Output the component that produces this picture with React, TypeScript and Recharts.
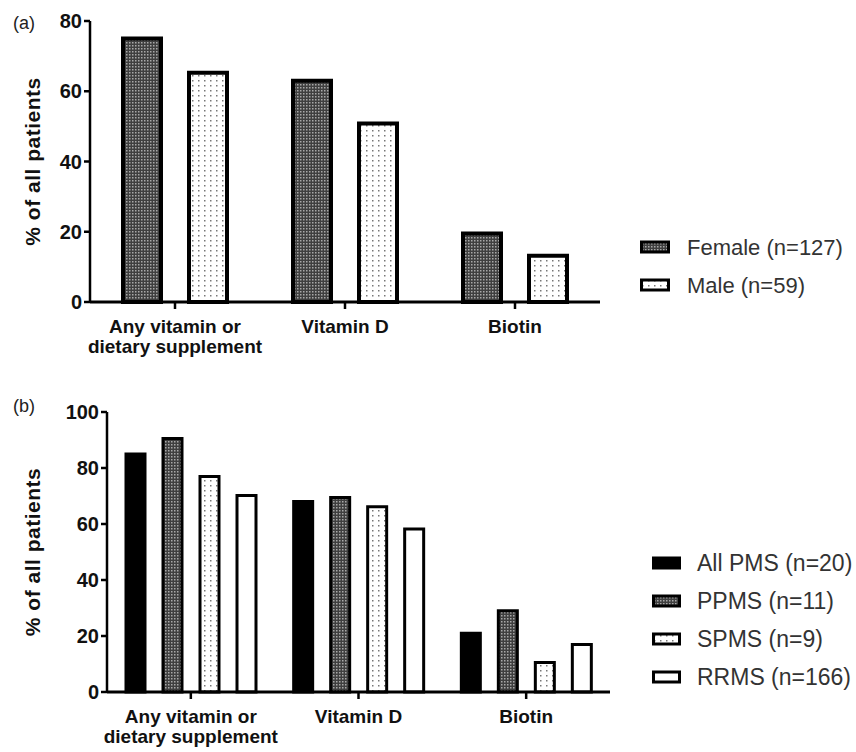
import React from "react";
import { BarChart, Bar, XAxis, YAxis } from "recharts";

// panel (a): by sex
const categories = ["Any vitamin or\ndietary supplement", "Vitamin D", "Biotin"];
const femaleValues = [75.0, 63.0, 19.5];
const maleValues = [65.3, 50.8, 13.2];
const sexSeries = ["Female (n=127)", "Male (n=59)"];
const yTicksA = [0, 20, 40, 60, 80];

// panel (b): by MS type
const allPmsValues = [85.0, 68.0, 21.0];
const ppmsValues = [90.5, 69.5, 29.0];
const spmsValues = [77.0, 66.2, 10.5];
const rrmsValues = [70.2, 58.2, 17.0];
const msSeries = ["All PMS (n=20)", "PPMS (n=11)", "SPMS (n=9)", "RRMS (n=166)"];
const yTicksB = [0, 20, 40, 60, 80, 100];

const dataA = categories.map((name, i) => ({
  name,
  female: femaleValues[i],
  male: maleValues[i],
}));

const dataB = categories.map((name, i) => ({
  name,
  allPms: allPmsValues[i],
  ppms: ppmsValues[i],
  spms: spmsValues[i],
  rrms: rrmsValues[i],
}));

const FONT = "'Liberation Sans', Arial, sans-serif";

const CategoryTick = (props: any) => {
  const { x, y, payload } = props;
  const lines = String(payload.value).split("\n");
  return (
    <text x={x} y={y} textAnchor="middle" fontSize={19} fontWeight="bold" fill="#111" fontFamily={FONT}>
      {lines.map((l, i) => (
        <tspan key={i} x={x} dy={i === 0 ? 22 : 20}>
          {l}
        </tspan>
      ))}
    </text>
  );
};

const yTickStyle = { fontSize: 20, fontWeight: "bold" as const, fill: "#111", fontFamily: FONT };
const yLabelStyle = { textAnchor: "middle" as const, fontSize: 21, fontWeight: "bold" as const, fill: "#111", fontFamily: FONT, letterSpacing: 0.5 };

const fills = {
  check: "url(#checkFill)",
  dots: "url(#dotFill)",
};

const App = () => {
  return (
    <div style={{ position: "absolute", left: 0, top: 0, width: 856, height: 752, background: "#fff", fontFamily: FONT }}>
      <svg width={856} height={752} style={{ position: "absolute", left: 0, top: 0 }}>
        <defs>
          <pattern id="checkFill" patternUnits="userSpaceOnUse" width={3} height={3}>
            <rect width={3} height={3} fill="#3f3f3f" />
            <rect width={1.5} height={1.5} fill="#a8a8a8" />
          </pattern>
          <pattern id="dotFill" patternUnits="userSpaceOnUse" width={6} height={5}>
            <rect width={6} height={5} fill="#fff" />
            <rect width={1.5} height={1.5} fill="#777" />
          </pattern>
        </defs>
        <text x={13} y={29} fontSize={18} fill="#222" fontFamily={FONT}>(a)</text>
        <text x={13} y={412} fontSize={18} fill="#222" fontFamily={FONT}>(b)</text>

        {sexSeries.map((s, i) => {
          const cy = 247 + i * 38;
          return (
            <g key={s}>
              <rect x={641.5} y={cy - 5} width={27} height={10} fill={i === 0 ? fills.check : fills.dots} stroke="#000" strokeWidth={3} />
              <text x={687} y={cy} dominantBaseline="central" fontSize={22} fill="#333" fontFamily={FONT}>{s}</text>
            </g>
          );
        })}

        {msSeries.map((s, i) => {
          const cy = 563 + i * 38;
          const f = ["#000", fills.check, fills.dots, "#fff"][i];
          return (
            <g key={s}>
              <rect x={653.5} y={cy - 5} width={26} height={10} fill={f} stroke="#000" strokeWidth={3} />
              <text x={697} y={cy} dominantBaseline="central" fontSize={23} fill="#333" fontFamily={FONT}>{s}</text>
            </g>
          );
        })}
      </svg>

      <div style={{ position: "absolute", left: 0, top: 0 }}>
        <BarChart width={600} height={362} data={dataA} margin={{ top: 21, right: 0, left: 0, bottom: 0 }} barSize={38} barGap={28}>
          <XAxis
            dataKey="name"
            interval={0}
            height={60}
            tick={<CategoryTick />}
            axisLine={{ stroke: "#000", strokeWidth: 3 }}
            tickLine={{ stroke: "#000", strokeWidth: 2.5 }}
            tickSize={7}
          />
          <YAxis
            width={90}
            domain={[0, 80]}
            ticks={yTicksA}
            tick={yTickStyle}
            axisLine={{ stroke: "#000", strokeWidth: 2.5 }}
            tickLine={{ stroke: "#000", strokeWidth: 2.5 }}
            tickSize={6}
            label={{ value: "% of all patients", angle: -90, position: "insideLeft", offset: 33, style: yLabelStyle }}
          />
          <Bar dataKey="female" fill={fills.check} stroke="#000" strokeWidth={4} isAnimationActive={false} />
          <Bar dataKey="male" fill={fills.dots} stroke="#000" strokeWidth={4} isAnimationActive={false} />
        </BarChart>
      </div>

      <div style={{ position: "absolute", left: 0, top: 390 }}>
        <BarChart width={610} height={362} data={dataB} margin={{ top: 22, right: 0, left: 0, bottom: 0 }} barSize={19} barGap={18}>
          <XAxis
            dataKey="name"
            interval={0}
            height={60}
            tick={<CategoryTick />}
            axisLine={{ stroke: "#000", strokeWidth: 3 }}
            tickLine={{ stroke: "#000", strokeWidth: 2.5 }}
            tickSize={7}
          />
          <YAxis
            width={107}
            domain={[0, 100]}
            ticks={yTicksB}
            tick={yTickStyle}
            axisLine={{ stroke: "#000", strokeWidth: 2.5 }}
            tickLine={{ stroke: "#000", strokeWidth: 2.5 }}
            tickSize={6}
            label={{ value: "% of all patients", angle: -90, position: "insideLeft", offset: 33, style: yLabelStyle }}
          />
          <Bar dataKey="allPms" fill="#000" stroke="#000" strokeWidth={3} isAnimationActive={false} />
          <Bar dataKey="ppms" fill={fills.check} stroke="#000" strokeWidth={3} isAnimationActive={false} />
          <Bar dataKey="spms" fill={fills.dots} stroke="#000" strokeWidth={3} isAnimationActive={false} />
          <Bar dataKey="rrms" fill="#fff" stroke="#000" strokeWidth={3} isAnimationActive={false} />
        </BarChart>
      </div>
    </div>
  );
};

export default App;
